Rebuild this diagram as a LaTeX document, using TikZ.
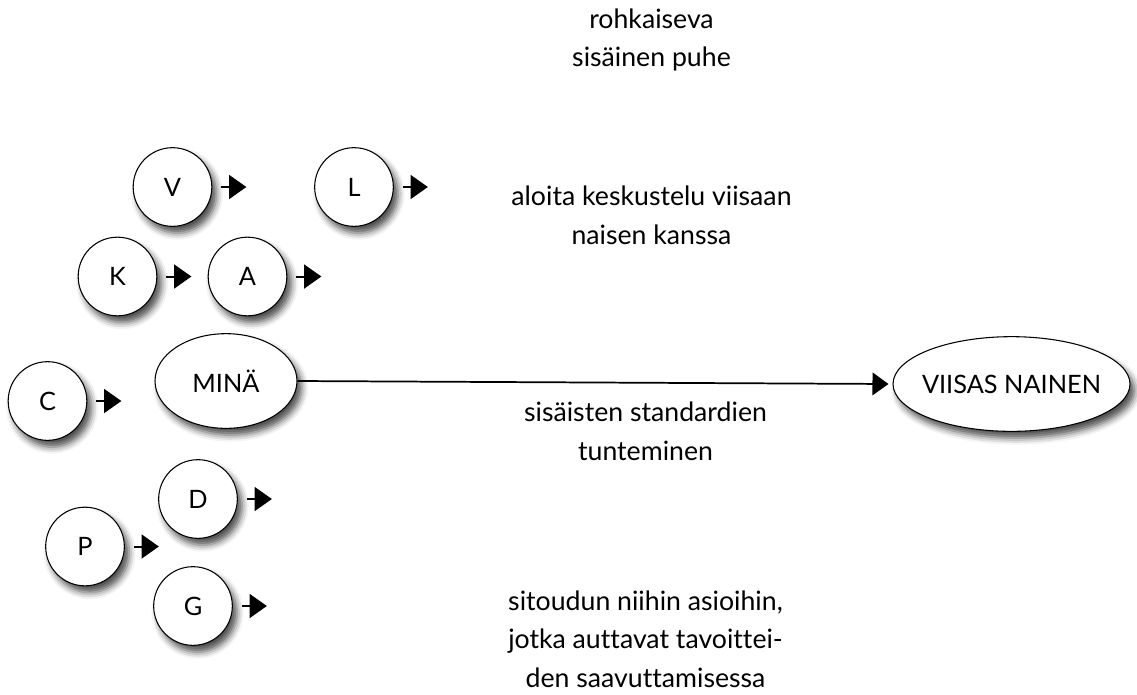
\documentclass[tikz,border=0pt]{standalone}
\usepackage{fontspec}
\setmainfont{Lato}[Ligatures=NoCommon]
\usetikzlibrary{shapes.geometric,shadows.blur,arrows.meta,calc}
\begin{document}
\begin{tikzpicture}[x=0.75pt,y=-0.75pt,
  soft/.style={blur shadow={shadow xshift=3.5pt,shadow yshift=-5pt,shadow blur radius=5pt,shadow opacity=70}},
  bubble/.style={circle,draw,line width=0.8pt,fill=white,minimum size=59pt,inner sep=0pt,
    font=\fontsize{19}{22}\selectfont,soft},
  oval/.style={ellipse,draw,line width=0.8pt,fill=white,inner xsep=-12pt,inner ysep=0pt,
    font=\fontsize{19}{22}\selectfont,soft},
  nudge/.style={line width=1.5pt,-{Triangle[length=13pt,width=18pt]}},
  link/.style={line width=1.3pt,-{Triangle[length=12pt,width=17pt]}},
  caption/.style={align=center,font=\fontsize{20}{29}\selectfont}
]
\useasboundingbox (0,0) rectangle (1137,694);

% circles feeding into the self
\node[bubble] (V) at (172.5,187) {V};
\node[bubble] (L) at (354,187) {L};
\node[bubble] (K) at (117.5,276.5) {K};
\node[bubble] (A) at (247.5,276.5) {A};
\node[bubble] (C) at (47.5,401) {C};
\node[bubble] (D) at (198,499) {D};
\node[bubble] (P) at (85,546.5) {P};
\node[bubble] (G) at (193,606) {G};

% the two ovals
\node[oval,minimum width=106.5pt,minimum height=71pt] (me) at (226,381) {MINÄ};
\node[oval,minimum width=177.75pt,minimum height=71pt] (wise) at (1011.5,384) {VIISAS NAINEN};

% short arrows beside each circle
\foreach \n in {V,L,K,A,C,D,P,G}{
  \coordinate (\n s) at ($(\n.east)+(9,0)$);
  \coordinate (\n e) at ($(\n.east)+(34,0)$);
  \draw[nudge] (\n s) -- (\n e);
}

% main connection
\draw[link,shorten >=3pt] (me.east) -- (wise.west);

% captions
\node[caption] (t1) at (651.5,40) {rohkaiseva\\sisäinen puhe};
\node[caption] (t2) at (651.5,215) {aloita keskustelu viisaan\\naisen kanssa};
\node[caption] (t3) at (645.5,431) {sisäisten standardien\\tunteminen};
\node[caption] (t4) at (645.5,639) {sitoudun niihin asioihin,\\jotka auttavat tavoittei-\\den saavuttamisessa};
\end{tikzpicture}
\end{document}
